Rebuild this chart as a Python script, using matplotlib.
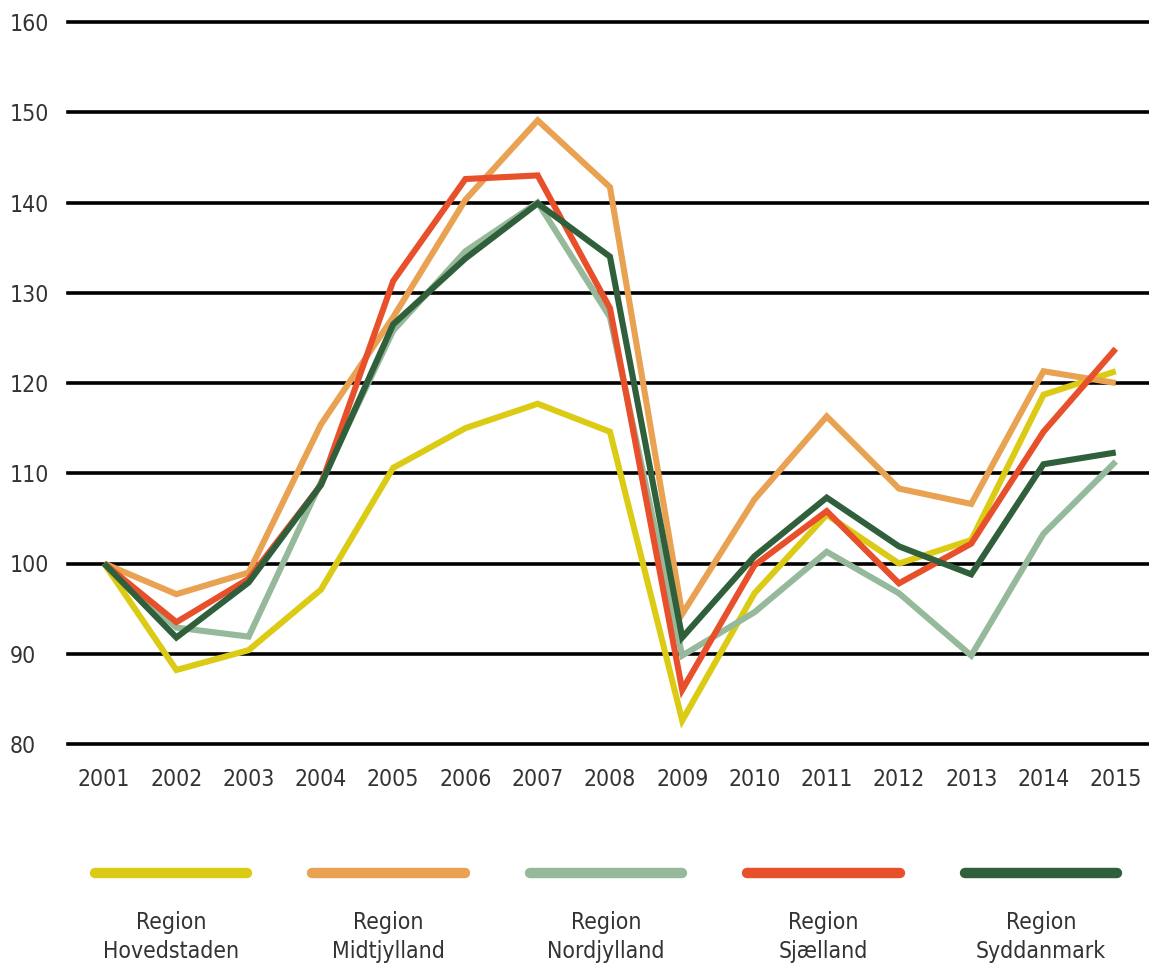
import matplotlib
matplotlib.use("Agg")
import matplotlib.pyplot as plt
from matplotlib import font_manager

# indeks, 2001 = 100
years = list(range(2001, 2016))
hovedstaden = [100, 88.2, 90.4, 97.1, 110.6, 115.0, 117.7, 114.6, 82.6, 96.7, 105.4, 100.0, 102.6, 118.7, 121.3]
midtjylland = [100, 96.6, 99.0, 115.4, 127.3, 140.3, 149.1, 141.7, 94.4, 107.1, 116.3, 108.3, 106.6, 121.3, 120.0]
nordjylland = [100, 92.9, 91.9, 109.0, 125.8, 134.6, 140.0, 127.3, 89.8, 94.6, 101.3, 96.7, 89.8, 103.3, 111.3]
sjaelland = [100, 93.5, 98.3, 108.7, 131.3, 142.6, 143.0, 128.3, 86.0, 99.8, 105.8, 97.8, 102.2, 114.6, 123.8]
syddanmark = [100, 91.8, 97.9, 108.7, 126.5, 133.8, 139.9, 134.0, 91.8, 100.8, 107.3, 101.9, 98.8, 111.0, 112.3]

series = [hovedstaden, midtjylland, nordjylland, sjaelland, syddanmark]
labels = ["Region\nHovedstaden", "Region\nMidtjylland", "Region\nNordjylland",
          "Region\nSjælland", "Region\nSyddanmark"]
colors = ["#dccb14", "#e9a152", "#95b99a", "#e8502b", "#2f5f3b"]
yticks = list(range(80, 161, 10))

# smal skrift hvis den findes
cond = [f for f in font_manager.fontManager.ttflist
        if "narrow" in f.name.lower() or "condensed" in f.name.lower()
        or f.stretch in ("condensed", "semi-condensed", "extra-condensed")]
if cond:
    plt.rcParams['font.family'] = [cond[0].name, 'DejaVu Sans']
    plt.rcParams['font.stretch'] = cond[0].stretch
else:
    plt.rcParams['font.family'] = ['DejaVu Sans']
txt = "#333333"

fig = plt.figure(figsize=(11.49, 9.66), dpi=100)
ax = fig.add_axes([68 / 1149, 1 - 744 / 966, 1 - 68 / 1149, (744 - 22) / 966])

for y in yticks:
    ax.axhline(y, color="black", lw=2.6, zorder=1, clip_on=False)

for i in range(len(series)):
    ax.plot(years, series[i], color=colors[i], lw=4.4, zorder=2 + i,
            solid_joinstyle="miter", solid_capstyle="butt")

ax.set_xlim(2000.5, 2015.46)
ax.set_ylim(80, 160)
ax.set_xticks(years)
ax.set_yticks(yticks)
ax.tick_params(length=0, labelsize=16.5, colors=txt)
ax.tick_params(axis="x", pad=17)
ax.tick_params(axis="y", pad=42)
for lab in ax.get_yticklabels():
    lab.set_horizontalalignment("left")
for s in ax.spines.values():
    s.set_visible(False)

# forklaring under figuren
lax = fig.add_axes([62 / 1149, 0, (1150 - 62) / 1149, 1 - 840 / 966])
lax.set_xlim(0, len(series))
lax.set_ylim(0, 1)
lax.axis("off")
for i, lab in enumerate(labels):
    lax.plot([i + 0.15, i + 0.85], [0.735, 0.735], color=colors[i], lw=7.5,
             solid_capstyle="round")
    lax.text(i + 0.5, 0.44, lab, ha="center", va="top", fontsize=16.5,
             color=txt, linespacing=1.35)

fig.savefig("out.png", dpi=100)
